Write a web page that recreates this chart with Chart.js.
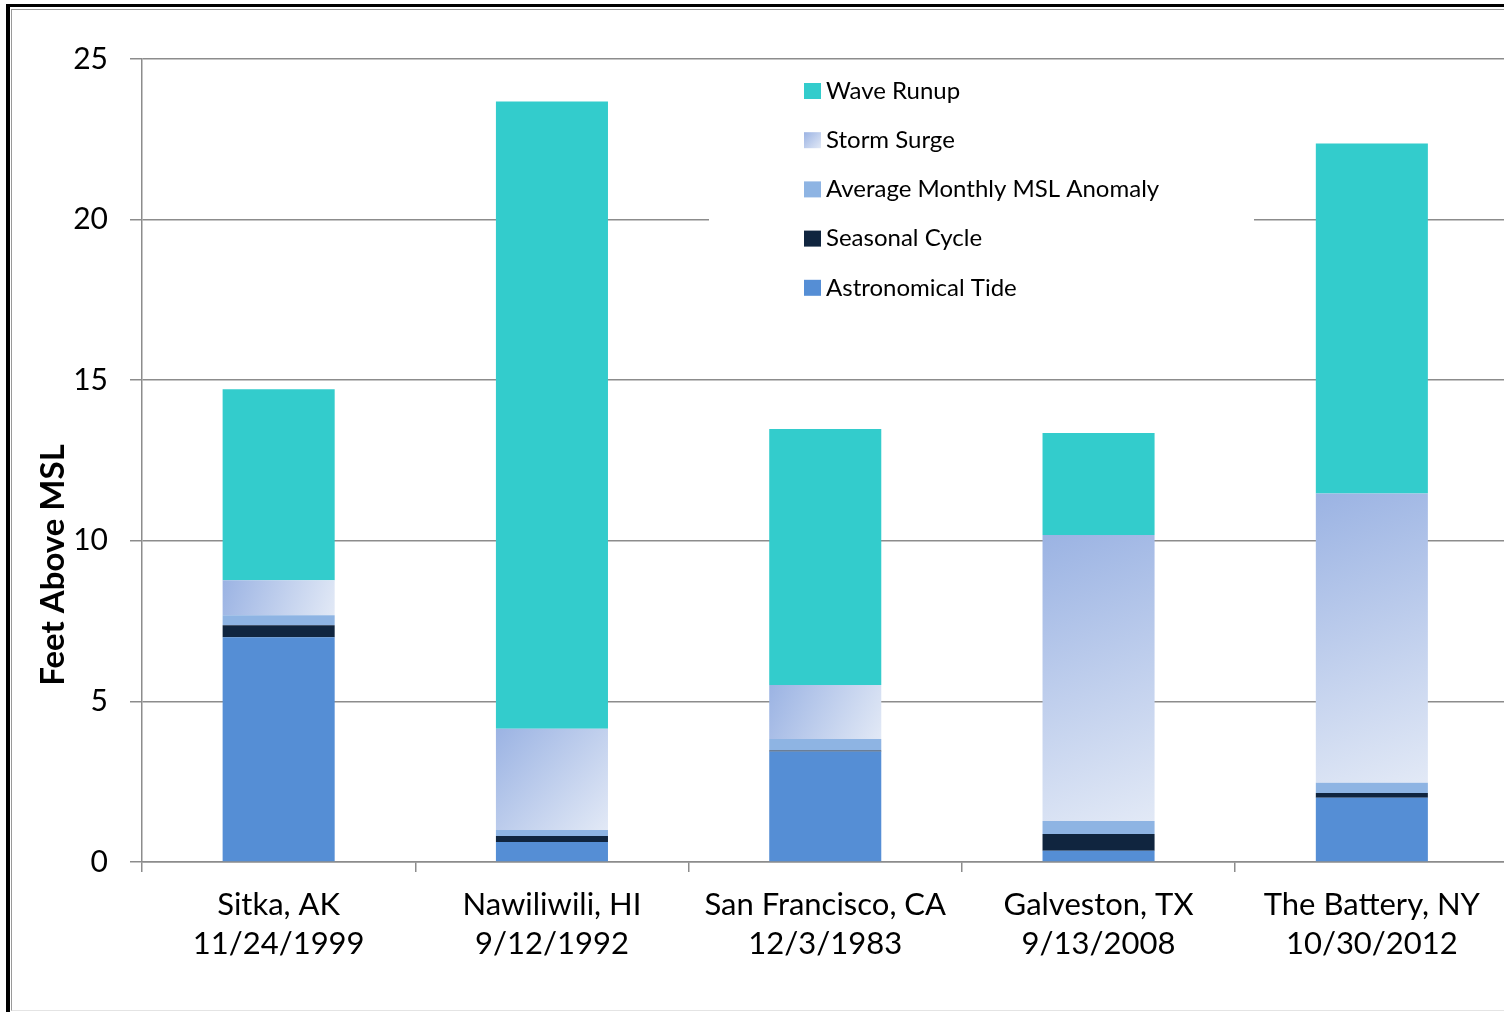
<!DOCTYPE html>
<html>
<head>
<meta charset="utf-8">
<title>Feet Above MSL</title>
<script src="https://cdn.jsdelivr.net/npm/chart.js@4.4.0/dist/chart.umd.min.js"></script>
<style>
  html, body { margin: 0; padding: 0; background: #fff; overflow: hidden; }
  #frame { position: absolute; left: 6px; top: 4px; width: 1600px; height: 1100px;
           border-left: 4px solid #000; border-top: 3px solid #000; }
  #frame2 { position: absolute; left: 11px; top: 9px; width: 1600px; height: 1000px;
            border-left: 1px solid #9a9a9a; border-top: 1px solid #9a9a9a; border-bottom: 1px solid #e4e4e4; }
  #wrap { position: absolute; left: 0; top: 0; width: 1510px; height: 1012px; }
</style>
</head>
<body>
<div id="frame"></div>
<div id="frame2"></div>
<div id="wrap"><canvas id="surge_chart"></canvas></div>
<script>
// 지점 / 날짜
const categories = [
  ['Sitka, AK', '11/24/1999'],
  ['Nawiliwili, HI', '9/12/1992'],
  ['San Francisco, CA', '12/3/1983'],
  ['Galveston, TX', '9/13/2008'],
  ['The Battery, NY', '10/30/2012']
];

// 각 성분 (feet), 아래에서 위로 쌓임
const astroTide   = [7.0, 0.62, 3.44, 0.35, 2.0];
const seasonal    = [0.37, 0.19, 0.03, 0.52, 0.15];
const mslAnomaly  = [0.31, 0.19, 0.36, 0.41, 0.32];
const stormSurge  = [1.09, 3.15, 1.68, 8.9, 9.0];
const waveRunup   = [5.95, 19.53, 7.97, 3.18, 10.9];

const yTicks = [0, 5, 10, 15, 20, 25];

const FONT = 'Lato';
const BAR_PCT = 0.41;

// storm surge 그라데이션 (막대마다)
function surgeFill(c) {
  const chart = c.chart;
  if (!chart.chartArea || c.dataIndex === undefined) return '#bccbec';
  const xs = chart.scales.x, ys = chart.scales.y, i = c.dataIndex;
  const cx = xs.getPixelForValue(i);
  const half = (xs.width / categories.length) * BAR_PCT / 2;
  const base = astroTide[i] + seasonal[i] + mslAnomaly[i];
  const y0 = ys.getPixelForValue(base + stormSurge[i]);
  const y1 = ys.getPixelForValue(base);
  const g = chart.ctx.createLinearGradient(cx - half, y0, cx + half, y1);
  g.addColorStop(0, '#9bb3e3');
  g.addColorStop(1, '#e2e9f6');
  return g;
}

// 범례 + y축 제목
const overlayPlugin = {
  id: 'overlay',
  afterDraw(chart) {
    const ctx = chart.ctx;
    ctx.save();
    // legend box
    ctx.fillStyle = '#fff';
    ctx.fillRect(709, 66, 545, 246);
    const items = chart.data.datasets.slice().reverse();
    items.forEach(function(ds, k) {
      const top = 83 + k * 49.2;
      if (ds.label === 'Storm Surge') {
        const g = ctx.createLinearGradient(804, top, 821, top + 16);
        g.addColorStop(0, '#9bb3e3');
        g.addColorStop(1, '#e2e9f6');
        ctx.fillStyle = g;
      } else {
        ctx.fillStyle = ds.backgroundColor;
      }
      ctx.fillRect(804, top, 17, 16);
      ctx.fillStyle = '#000';
      ctx.font = '24px ' + FONT;
      ctx.textBaseline = 'middle';
      ctx.textAlign = 'left';
      ctx.fillText(ds.label, 826, top + 8);
    });
    // y axis title
    ctx.translate(53, 565);
    ctx.rotate(-Math.PI / 2);
    ctx.font = 'bold 33px ' + FONT;
    ctx.textAlign = 'center';
    ctx.textBaseline = 'middle';
    ctx.fillText('Feet Above MSL', 0, 0);
    ctx.restore();
  }
};

new Chart(document.getElementById('surge_chart'), {
  type: 'bar',
  data: {
    labels: categories,
    datasets: [
      { label: 'Astronomical Tide', data: astroTide, backgroundColor: '#558ed5' },
      { label: 'Seasonal Cycle', data: seasonal, backgroundColor: '#10253f' },
      { label: 'Average Monthly MSL Anomaly', data: mslAnomaly, backgroundColor: '#8eb4e3' },
      { label: 'Storm Surge', data: stormSurge, backgroundColor: surgeFill },
      { label: 'Wave Runup', data: waveRunup, backgroundColor: '#33cccc' }
    ]
  },
  options: {
    responsive: true,
    maintainAspectRatio: false,
    animation: false,
    devicePixelRatio: 1,
    layout: { padding: { top: 59, right: 1.5, left: 0, bottom: 0 } },
    datasets: { bar: { categoryPercentage: 1.0, barPercentage: BAR_PCT, borderWidth: 0 } },
    plugins: { legend: { display: false }, tooltip: { enabled: false } },
    scales: {
      x: {
        stacked: true,
        grid: { offset: true, drawOnChartArea: false, drawTicks: true, tickLength: 10,
                color: '#8c8c8c', lineWidth: 1.5 },
        border: { color: '#8c8c8c', width: 1.5 },
        ticks: { color: '#000', font: { family: FONT, size: 31, lineHeight: 1.25 }, padding: 14,
                 maxRotation: 0, autoSkip: false },
        afterFit: function(s) { s.height = 150; }
      },
      y: {
        stacked: true,
        min: 0,
        max: 25,
        afterBuildTicks: function(s) { s.ticks = yTicks.map(v => ({ value: v })); },
        grid: { color: '#8c8c8c', lineWidth: 1.5, tickLength: 12 },
        border: { color: '#8c8c8c', width: 1.5 },
        ticks: { color: '#000', font: { family: FONT, size: 30 }, padding: 22 },
        afterFit: function(s) { s.width = 142; }
      }
    }
  },
  plugins: [overlayPlugin]
});
</script>
</body>
</html>
